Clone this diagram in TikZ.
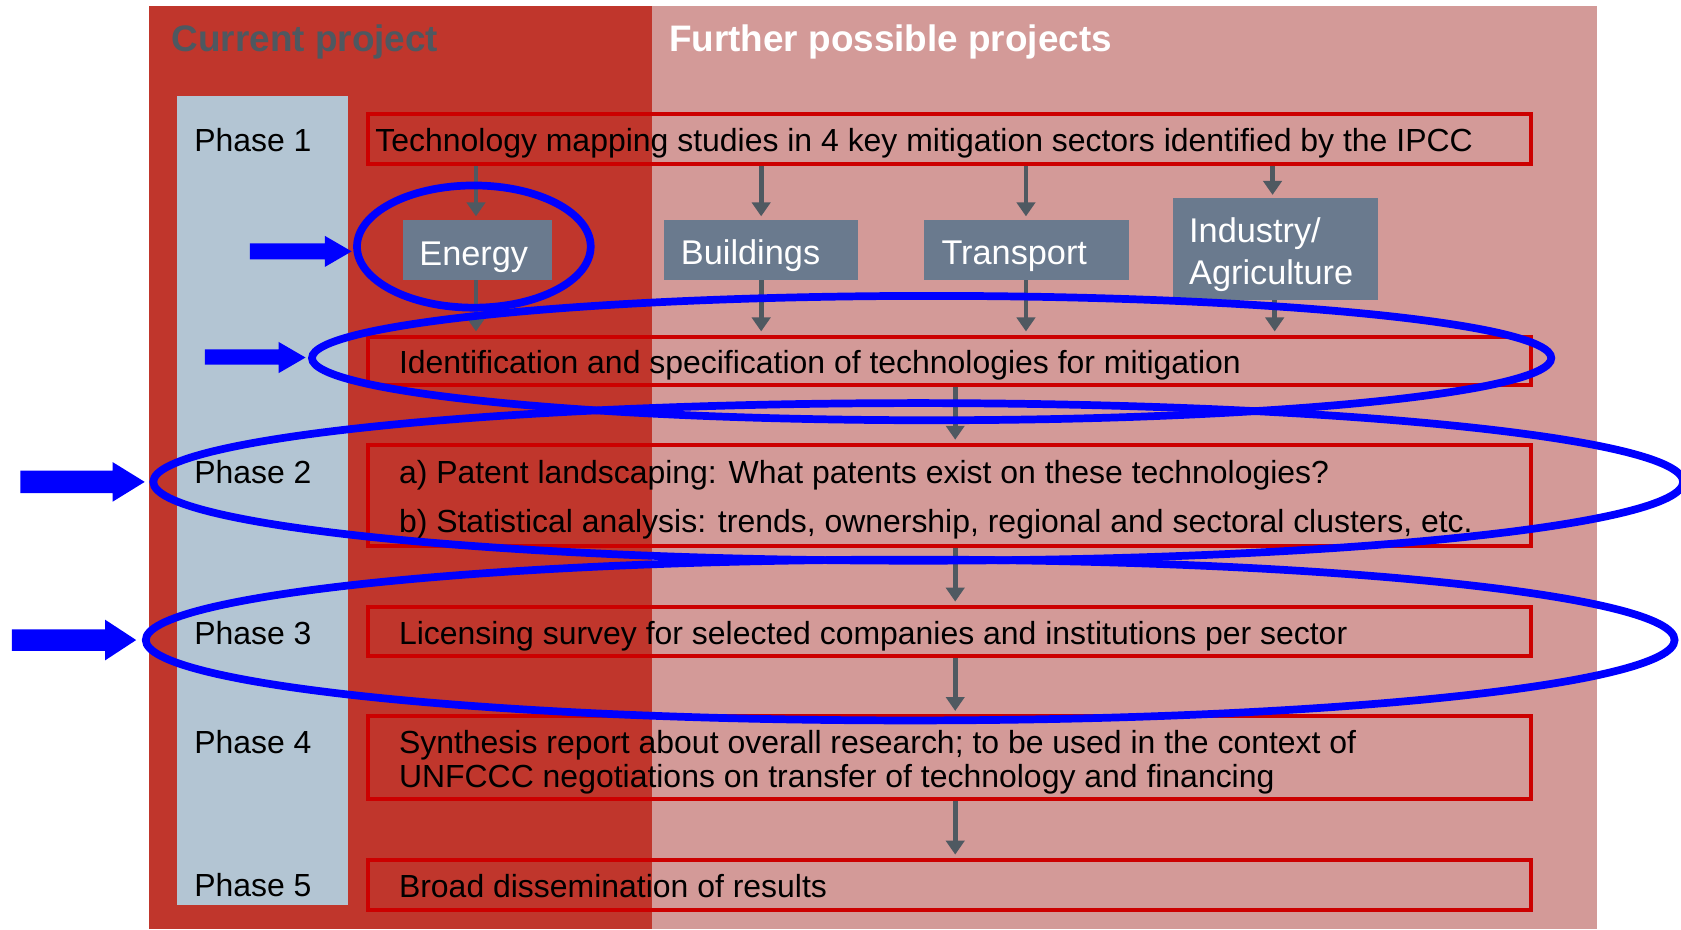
\documentclass[tikz,border=0pt]{standalone}
\usepackage{fontspec}
\setmainfont{Liberation Sans}
\usetikzlibrary{arrows.meta,calc}

\definecolor{curred}{HTML}{C0362C}
\definecolor{futpink}{HTML}{D39A98}
\definecolor{phaseblue}{HTML}{B3C5D3}
\definecolor{boxred}{HTML}{CC0000}
\definecolor{sectorgray}{HTML}{6A7A8E}
\definecolor{flowgray}{HTML}{4F5961}
\definecolor{titlegray}{HTML}{4E5860}
\definecolor{markblue}{HTML}{0000FF}

\begin{document}
\begin{tikzpicture}[x=1pt,y=-1pt,
  redbox/.style={draw=boxred,line width=3.7pt,inner sep=0pt,minimum width=1085pt},
  sector/.style={fill=sectorgray,inner sep=0pt,minimum height=56pt},
  body/.style={inner sep=0pt,anchor=base west,font=\fontsize{29.8pt}{34pt}\selectfont},
  sectortext/.style={inner sep=0pt,anchor=base west,text=white,font=\fontsize{32pt}{38pt}\selectfont},
  headtext/.style={inner sep=0pt,anchor=base west,font=\fontsize{34.4pt}{40pt}\selectfont\bfseries},
  flow/.style={draw=flowgray,line width=4.5pt,-{Triangle[width=17pt,length=13pt]},shorten >=3pt},
  ring/.style={draw=markblue,line width=7.2pt},
  pointer/.style={fill=markblue}]

\useasboundingbox (0,0) rectangle (1568,867);
\fill[white] (0,0) rectangle (1568,867);

% project areas and phase column
\fill[curred] (139,6) rectangle (608,867);
\fill[futpink] (608,6) rectangle (1490,867);
\fill[phaseblue] (165,90) rectangle (325,844);

% headings
\node[headtext,text=titlegray] (hcur) at (160,48) {Current project};
\node[headtext,text=white] (hfut) at (624,48) {Further possible projects};

% phase labels
\node[body] (p1) at (181,141) {Phase 1};
\node[body] (p2) at (181,451) {Phase 2};
\node[body] (p3) at (181,601) {Phase 3};
\node[body] (p4) at (181,703) {Phase 4};
\node[body] (p5) at (181,836) {Phase 5};

% step boxes
\node[redbox,minimum height=47pt] (box1) at (885.5,129.5) {};
\node[redbox,minimum height=45pt] (box2) at (885.5,336.5) {};
\node[redbox,minimum height=94pt] (box3) at (885.5,462) {};
\node[redbox,minimum height=46pt] (box4) at (885.5,589) {};
\node[redbox,minimum height=77pt] (box5) at (885.5,706.5) {};
\node[redbox,minimum height=47pt] (box6) at (885.5,825.5) {};

\node[body] (t1) at (350,141) {Technology mapping studies in 4 key mitigation sectors identified by the IPCC};
\node[body] (t2) at (372,348) {Identification and specification of technologies for mitigation};
\node[body] (t3a) at (372,451) {a) Patent landscaping: What patents exist on these technologies?};
\node[body] (t3b) at (372,497) {b) Statistical analysis: trends, ownership, regional and sectoral clusters, etc.};
\node[body] (t4) at (372,601) {Licensing survey for selected companies and institutions per sector};
\node[body] (t5a) at (372,703) {Synthesis report about overall research; to be used in the context of};
\node[body] (t5b) at (372,735) {UNFCCC negotiations on transfer of technology and financing};
\node[body] (t6) at (372,837) {Broad dissemination of results};

% sectors
\node[sector,minimum width=139pt] (energy) at (445.5,233) {};
\node[sector,minimum width=181pt] (buildings) at (709.5,233) {};
\node[sector,minimum width=191pt] (transport) at (957.5,233) {};
\node[sector,minimum width=191pt,minimum height=95pt] (industry) at (1189.5,232.5) {};

\node[sectortext] (senergy) at (391,248) {Energy};
\node[sectortext] (sbuild) at (635,247) {Buildings};
\node[sectortext] (stransp) at (878,247) {Transport};
\node[sectortext] (sind1) at (1109,226) {Industry/};
\node[sectortext] (sind2) at (1109,265) {Agriculture};

% flow from the mapping studies into the sectors
\coordinate (cE) at (444,0);
\coordinate (cB) at (710,0);
\coordinate (cT) at (957,0);
\coordinate (cI) at (1187,0);
\coordinate (cIb) at (1189,0);
\draw[flow] (cE |- box1.south) -- (cE |- energy.north);
\draw[flow] (cB |- box1.south) -- (cB |- buildings.north);
\draw[flow] (cT |- box1.south) -- (cT |- transport.north);
\draw[flow] (cI |- box1.south) -- (cI |- industry.north);

% flow from the sectors into the identification step
\draw[flow] (cE |- energy.south) -- (cE |- box2.north);
\draw[flow] (cB |- buildings.south) -- (cB |- box2.north);
\draw[flow] (cT |- transport.south) -- (cT |- box2.north);
\draw[flow] (cIb |- industry.south) -- (cIb |- box2.north);

% main chain of phases
\coordinate (spine) at (891,0);
\draw[flow] (spine |- box2.south) -- (spine |- box3.north);
\draw[flow] (spine |- box3.south) -- (spine |- box4.north);
\draw[flow] (spine |- box4.south) -- (spine |- box5.north);
\draw[flow] (spine |- box5.south) -- (spine |- box6.north);

% highlighted parts
\draw[ring] (442,230) ellipse [x radius=109pt, y radius=57pt];
\draw[ring] (869,334) ellipse [x radius=578pt, y radius=58pt];
\draw[ring] (856.5,449.5) ellipse [x radius=713.5pt, y radius=73.5pt];
\draw[ring] (849,597) ellipse [x radius=713pt, y radius=75pt];

\fill[pointer] (233,227)--(303,227)--(303,220)--(328,234.5)--(303,249)--(303,242)--(233,242)--cycle;
\fill[pointer] (191,326)--(260,326)--(260,319)--(285,333.5)--(260,348)--(260,340)--(191,340)--cycle;
\fill[pointer] (19,439)--(105,439)--(105,431)--(135,449.5)--(105,468)--(105,460)--(19,460)--cycle;
\fill[pointer] (11,587)--(98,587)--(98,578)--(127,597)--(98,616)--(98,607)--(11,607)--cycle;

\end{tikzpicture}
\end{document}
